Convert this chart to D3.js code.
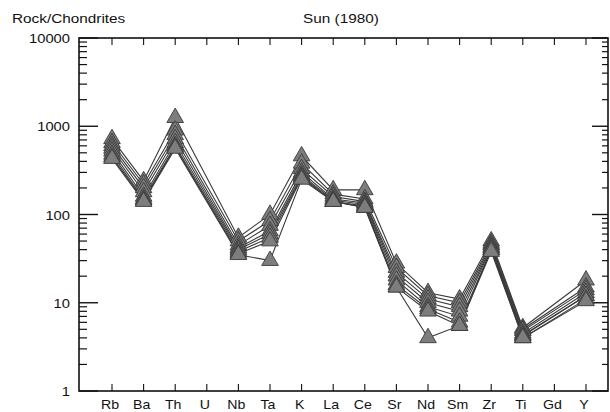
<!DOCTYPE html>
<html lang="en">
<head>
   <meta charset="UTF-8">
   <title>Rock/Chondrites spider diagram</title>
   <script src="https://cdn.jsdelivr.net/npm/d3@7/dist/d3.min.js"></script>
   <style>
      body { margin: 0; background: #fff; }
      text { font-family: "Liberation Sans", Arial, sans-serif; fill: #111; }
   </style>
</head>
<body>
   <svg id="chart" width="610" height="412"></svg>
   <script>
      // data
      const elements = ['Rb', 'Ba', 'Th', 'U', 'Nb', 'Ta', 'K', 'La', 'Ce', 'Sr', 'Nd', 'Sm', 'Zr', 'Ti', 'Gd', 'Y']
      const yTicks = [1, 10, 100, 1000, 10000]

      const sample1 = [720, 240, 1250, null, 55, 100, 460, 190, 190, 28, 13, 11, 50, 5.2, null, 18]
      const sample2 = [650, 220, 900, null, 50, 85, 380, 170, 150, 25, 12, 10, 47, 5, null, 15]
      const sample3 = [600, 200, 800, null, 45, 75, 330, 160, 140, 22, 11, 9, 45, 4.8, null, 14]
      const sample4 = [560, 180, 720, null, 42, 65, 300, 150, 135, 20, 10, 8, 43, 4.5, null, 13]
      const sample5 = [520, 160, 650, null, 40, 60, 280, 145, 130, 18, 9, 7, 42, 4.3, null, 12]
      const sample6 = [480, 150, 600, null, 38, 55, 270, 140, 125, 16, 8.5, 6, 40, 4.2, null, 12]
      const sample7 = [450, 145, 580, null, 36, 50, 260, 140, 120, 15, 8, 5.5, 40, 4, null, 11]
      const sample8 = [430, 140, 560, null, 35, 30, 250, 140, 120, 15, 4, 5.5, 38, 4, null, 10.5]
      const samples = [sample1, sample2, sample3, sample4, sample5, sample6, sample7, sample8]

      const svg = d3.select('#chart')

      // frame
      const LEFT = 79, RIGHT = 608, TOP = 38, BOTTOM = 391
      const STRETCH = 1.18

      const xScale = d3.scalePoint()
         .domain(elements)
         .range([112, 586])

      const yScale = d3.scaleLog()
         .domain([1, 10000])
         .range([BOTTOM, TOP])

      const addText = (str, x, y, anchor, size) => svg.append('text')
         .text(str)
         .attr('text-anchor', anchor)
         .attr('font-size', size)
         .attr('transform', `translate(${x}, ${y}) scale(${STRETCH}, 1)`)

      // titles
      addText('Rock/Chondrites', 12, 23, 'start', 13)
      addText('Sun (1980)', 303, 23, 'start', 13)

      // minor + major ticks on both vertical axes
      const minor = []
      for (let dec = 1; dec < 10000; dec *= 10)
         for (let m = 2; m <= 9; m++) minor.push(dec * m)

      const axes = svg.append('g').attr('stroke', '#111')

      axes.selectAll('.minL').data(minor).enter().append('line')
         .attr('x1', LEFT).attr('x2', LEFT + 8)
         .attr('y1', d => yScale(d)).attr('y2', d => yScale(d))
         .attr('stroke-width', 1.2)
      axes.selectAll('.majL').data(yTicks).enter().append('line')
         .attr('x1', LEFT).attr('x2', LEFT + 19)
         .attr('y1', d => yScale(d)).attr('y2', d => yScale(d))
         .attr('stroke-width', 1.4)
      axes.selectAll('.minR').data(minor).enter().append('line')
         .attr('x1', RIGHT).attr('x2', RIGHT - 6)
         .attr('y1', d => yScale(d)).attr('y2', d => yScale(d))
         .attr('stroke-width', 1.2)
      axes.selectAll('.majR').data(yTicks).enter().append('line')
         .attr('x1', RIGHT).attr('x2', RIGHT - 16)
         .attr('y1', d => yScale(d)).attr('y2', d => yScale(d))
         .attr('stroke-width', 1.4)

      // category ticks top and bottom
      axes.selectAll('.tb').data(elements).enter().append('line')
         .attr('x1', d => xScale(d)).attr('x2', d => xScale(d))
         .attr('y1', BOTTOM).attr('y2', BOTTOM - 7)
         .attr('stroke-width', 1.1)
      axes.selectAll('.tt').data(elements).enter().append('line')
         .attr('x1', d => xScale(d)).attr('x2', d => xScale(d))
         .attr('y1', TOP).attr('y2', TOP + 7)
         .attr('stroke-width', 1.1)

      axes.append('rect')
         .attr('x', LEFT).attr('y', TOP)
         .attr('width', RIGHT - LEFT).attr('height', BOTTOM - TOP)
         .attr('fill', 'none')
         .attr('stroke-width', 1.6)

      // tick labels
      yTicks.forEach(t => addText(t, 70, yScale(t) + 5, 'end', 12.5))
      elements.forEach(e => addText(e, xScale(e) - 2, 409, 'middle', 12))

      // lines
      const line = d3.line()
         .x(d => xScale(d.el))
         .y(d => yScale(d.v))

      const rows = samples.map(s => elements.map((el, i) => ({ el, v: s[i] })).filter(d => d.v !== null))

      svg.append('g').selectAll('path')
         .data(rows)
         .enter()
         .append('path')
            .attr('d', line)
            .attr('fill', 'none')
            .attr('stroke', '#3a3a3a')
            .attr('stroke-width', 1.1)

      // triangles
      const tri = d3.symbol().type(d3.symbolTriangle).size(120)

      svg.append('g').selectAll('path')
         .data(rows.flat())
         .enter()
         .append('path')
            .attr('d', tri)
            .attr('transform', d => `translate(${xScale(d.el)}, ${yScale(d.v)})`)
            .attr('fill', '#7d7d7d')
            .attr('stroke', '#3a3a3a')
            .attr('stroke-width', 0.9)
   </script>
</body>
</html>
